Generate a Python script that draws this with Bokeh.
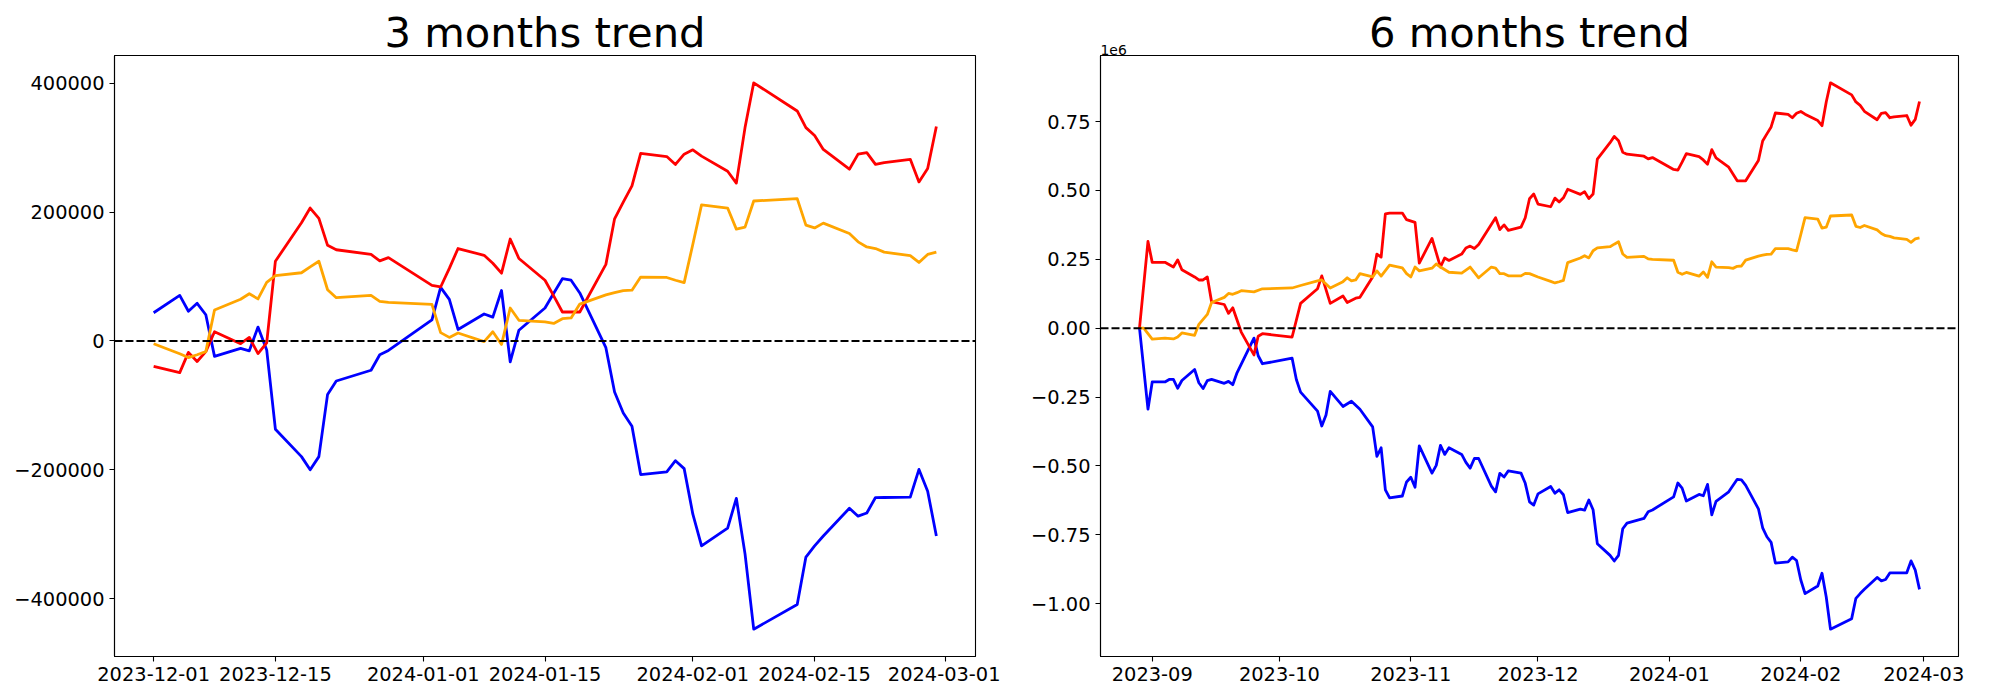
import pandas as pd
from bokeh.plotting import figure
from bokeh.models import FixedTicker, Span, Range1d, Title
from bokeh.layouts import row
from bokeh.embed import file_html
from bokeh.resources import INLINE

# ---------------- 3 months panel data ----------------
dates_3m = [
    "2023-12-01", "2023-12-04", "2023-12-05", "2023-12-06", "2023-12-07", "2023-12-08",
    "2023-12-11", "2023-12-12", "2023-12-13", "2023-12-14", "2023-12-15", "2023-12-18",
    "2023-12-19", "2023-12-20", "2023-12-21", "2023-12-22", "2023-12-26", "2023-12-27",
    "2023-12-28", "2024-01-02", "2024-01-03", "2024-01-04", "2024-01-05", "2024-01-08",
    "2024-01-09", "2024-01-10", "2024-01-11", "2024-01-12", "2024-01-15", "2024-01-16",
    "2024-01-17", "2024-01-18", "2024-01-19", "2024-01-22", "2024-01-23", "2024-01-24",
    "2024-01-25", "2024-01-26", "2024-01-29", "2024-01-30", "2024-01-31", "2024-02-01",
    "2024-02-02", "2024-02-05", "2024-02-06", "2024-02-07", "2024-02-08", "2024-02-13",
    "2024-02-14", "2024-02-15", "2024-02-16", "2024-02-19", "2024-02-20", "2024-02-21",
    "2024-02-22", "2024-02-23", "2024-02-26", "2024-02-27", "2024-02-28", "2024-02-29",
]
blue_3m = [
    43700, 70700, 46100, 58400, 40600, -24000, -11700, -15400, 21500, -14000, -137000, -179600,
    -200000, -179600, -83000, -62200, -45500, -21500, -14800, 32600, 83100, 64600, 17800, 41800,
    36900, 78200, -32600, 16600, 51100, 74000, 96600, 94200, 74500, -10500, -79400, -112000,
    -132300, -207400, -203100, -185900, -198200, -268900, -318200, -290500, -244300, -330500,
    -447400, -409200, -335400, -318200, -302800, -259700, -272000, -267100, -243100, -243000,
    -242500, -199400, -233200, -302800,
]
red_3m = [
    -39400, -49200, -17800, -32000, -16600, 14200, -4300, 5500, -19700, -3100, 123700, 183400,
    206200, 190200, 148300, 141500, 134200, 124300, 129200, 86200, 83700, 112600, 143400, 132900,
    120600, 105200, 158200, 128000, 94200, 70000, 44900, 44900, 44900, 118800, 189500, 215400,
    240600, 291100, 286200, 273900, 289900, 296600, 286800, 263400, 244900, 331100, 400600,
    356900, 331100, 318800, 297200, 266500, 289900, 292300, 273900, 276900, 281900, 246800,
    267700, 332900,
]
orange_3m = [
    -4300, -20000, -25800, -21500, -16600, 48000, 64600, 73200, 65200, 91000, 101500, 105800,
    115000, 123700, 79400, 67100, 70800, 61500, 59700, 56600, 12900, 5500, 12300, -1200,
    14200, -5500, 51100, 32000, 29500, 27100, 34500, 35700, 57200, 71400, 75100, 78200,
    78800, 99100, 98500, 94200, 90500, 150000, 211100, 206200, 173500, 176600, 217200,
    220900, 179700, 175400, 182800, 166800, 153800, 145800, 143400, 137800, 132300, 121800,
    134200, 137800,
]
ticks_3m = ["2023-12-01", "2023-12-15", "2024-01-01", "2024-01-15", "2024-02-01", "2024-02-15", "2024-03-01"]
yticks_3m = [-400000, -200000, 0, 200000, 400000]

# ---------------- 6 months panel data ----------------
red_6m_head_dates = [
    "2023-08-29", "2023-08-31", "2023-09-01", "2023-09-04", "2023-09-06", "2023-09-07",
    "2023-09-08", "2023-09-11", "2023-09-12", "2023-09-13", "2023-09-14", "2023-09-15",
    "2023-09-18", "2023-09-19", "2023-09-20", "2023-09-22", "2023-09-25", "2023-09-26",
    "2023-09-27", "2023-10-04", "2023-10-06", "2023-10-10", "2023-10-11", "2023-10-13",
    "2023-10-16", "2023-10-17", "2023-10-19", "2023-10-20", "2023-10-23", "2023-10-24",
    "2023-10-25", "2023-10-26", "2023-10-27", "2023-10-30", "2023-10-31", "2023-11-02",
    "2023-11-03", "2023-11-06", "2023-11-08", "2023-11-09", "2023-11-10", "2023-11-13",
    "2023-11-14", "2023-11-15", "2023-11-16", "2023-11-17", "2023-11-21", "2023-11-22",
    "2023-11-23", "2023-11-24", "2023-11-27", "2023-11-28", "2023-11-29", "2023-11-30",
]
red_6m_head = [
    0, 315000, 239000, 239000, 222000, 248000, 212000, 186000, 175000, 175000, 186000, 96000,
    86000, 54000, 74000, -14000, -97000, -29000, -20000, -32000, 90000, 143000, 190000, 90000,
    117000, 93000, 109000, 112000, 186000, 269000, 258000, 415000, 418000, 418000, 394000,
    384000, 236000, 326000, 222000, 255000, 246000, 269000, 291000, 298000, 289000, 304000,
    401000, 358000, 375000, 355000, 367000, 401000, 470000, 487000,
]
blue_6m_head_dates = [
    "2023-08-29", "2023-08-31", "2023-09-01", "2023-09-04", "2023-09-05", "2023-09-06",
    "2023-09-07", "2023-09-08", "2023-09-11", "2023-09-12", "2023-09-13", "2023-09-14",
    "2023-09-15", "2023-09-18", "2023-09-19", "2023-09-20", "2023-09-21", "2023-09-25",
    "2023-09-26", "2023-09-27", "2023-10-04", "2023-10-05", "2023-10-06", "2023-10-10",
    "2023-10-11", "2023-10-12", "2023-10-13", "2023-10-16", "2023-10-18", "2023-10-20",
    "2023-10-23", "2023-10-24", "2023-10-25", "2023-10-26", "2023-10-27", "2023-10-30",
    "2023-10-31", "2023-11-01", "2023-11-02", "2023-11-03", "2023-11-06", "2023-11-07",
    "2023-11-08", "2023-11-09", "2023-11-10", "2023-11-13", "2023-11-14", "2023-11-15",
    "2023-11-16", "2023-11-17", "2023-11-20", "2023-11-21", "2023-11-22", "2023-11-23",
    "2023-11-24", "2023-11-27", "2023-11-28", "2023-11-29", "2023-11-30",
]
blue_6m_head = [
    0, -294000, -195000, -195000, -186000, -186000, -218000, -190000, -150000, -198000,
    -219000, -190000, -186000, -200000, -193000, -205000, -162000, -36000, -100000, -129000,
    -109000, -186000, -232000, -301000, -355000, -315000, -229000, -284000, -265000, -294000,
    -358000, -465000, -434000, -587000, -616000, -609000, -558000, -541000, -577000, -427000,
    -526000, -498000, -425000, -458000, -434000, -458000, -487000, -508000, -473000, -473000,
    -573000, -594000, -527000, -540000, -518000, -526000, -563000, -630000, -642000,
]
orange_6m_head_dates = [
    "2023-08-29", "2023-08-30", "2023-09-01", "2023-09-04", "2023-09-06", "2023-09-07",
    "2023-09-08", "2023-09-11", "2023-09-12", "2023-09-13", "2023-09-14", "2023-09-15",
    "2023-09-18", "2023-09-19", "2023-09-20", "2023-09-21", "2023-09-22", "2023-09-25",
    "2023-09-27", "2023-10-04", "2023-10-06", "2023-10-10", "2023-10-11", "2023-10-13",
    "2023-10-16", "2023-10-17", "2023-10-18", "2023-10-19", "2023-10-20", "2023-10-23",
    "2023-10-24", "2023-10-25", "2023-10-27", "2023-10-30", "2023-10-31", "2023-11-01",
    "2023-11-02", "2023-11-03", "2023-11-06", "2023-11-07", "2023-11-08", "2023-11-10",
    "2023-11-13", "2023-11-15", "2023-11-17", "2023-11-20", "2023-11-21", "2023-11-22",
    "2023-11-23", "2023-11-24", "2023-11-27", "2023-11-28", "2023-11-29",
]
orange_6m_head = [
    0, 0, -40000, -36000, -39000, -32000, -17000, -26000, 14000, 32000, 50000, 93000,
    112000, 126000, 123000, 129000, 136000, 132000, 143000, 146000, 155000, 172000, 175000,
    146000, 169000, 183000, 172000, 175000, 198000, 186000, 208000, 189000, 229000, 219000,
    198000, 186000, 222000, 208000, 218000, 233000, 222000, 203000, 200000, 222000, 183000,
    222000, 218000, 198000, 198000, 190000, 190000, 199000, 198000,
]
# Dec-Feb part of the 6 months panel (same trading days as dates_3m)
red_6m_tail = [
    450600, 440800, 472200, 458000, 473400, 504200, 485700, 495500, 470300, 486900, 613700,
    673400, 696200, 680200, 638300, 631500, 624200, 614300, 619200, 576200, 573700, 602600,
    633400, 622900, 610600, 595200, 648200, 618000, 584200, 560000, 534900, 534900, 534900,
    608800, 679500, 705400, 730600, 781100, 776200, 763900, 779900, 786600, 776800, 753400,
    734900, 821100, 890600, 846900, 821100, 808800, 787200, 756500, 779900, 782300, 763900,
    766900, 771900, 736800, 757700, 822900,
]
blue_6m_tail = [
    -601300, -574300, -598900, -586600, -604400, -669000, -656700, -660400, -623500, -659000,
    -782000, -824600, -845000, -824600, -728000, -707200, -690500, -666500, -659800, -612400,
    -561900, -580400, -627200, -603200, -608100, -566800, -677600, -628400, -593900, -571000,
    -548400, -550800, -570500, -655500, -724400, -757000, -777300, -852400, -848100, -830900,
    -843200, -913900, -963200, -935500, -889300, -975500, -1092400, -1054200, -980400, -963200,
    -947800, -904700, -917000, -912100, -888100, -888000, -887500, -844400, -878200, -947800,
]
orange_6m_tail = [
    185700, 170000, 164200, 168500, 173400, 238000, 254600, 263200, 255200, 281000, 291500,
    295800, 305000, 313700, 269400, 257100, 260800, 251500, 249700, 246600, 202900, 195500,
    202300, 188800, 204200, 184500, 241100, 222000, 219500, 217100, 224500, 225700, 247200,
    261400, 265100, 268200, 268800, 289100, 288500, 284200, 280500, 340000, 401100, 396200,
    363500, 366600, 407200, 410900, 369700, 365400, 372800, 356800, 343800, 335800, 333400,
    327800, 322300, 311800, 324200, 327800,
]
ticks_6m = ["2023-09-01", "2023-10-01", "2023-11-01", "2023-12-01", "2024-01-01", "2024-02-01", "2024-03-01"]
tick_labels_6m = ["2023-09", "2023-10", "2023-11", "2023-12", "2024-01", "2024-02", "2024-03"]
yticks_6m = [-1000000, -750000, -500000, -250000, 0, 250000, 500000, 750000]

COLORS = {"blue": "blue", "red": "red", "orange": "orange"}
FONT = "DejaVu Sans"
TITLE_SIZE = "41.7px"


def ms(s):
    return pd.Timestamp(s).value / 1e6


def minus(s):
    return s.replace("-", "\u2212")


def make_fig(title, width, left, right, series, xticks, xlabels, yticks, ylabels):
    xs_all = [ms(d) for dates, _, _ in series for d in dates]
    ys_all = [v for _, vals, _ in series for v in vals]
    x0, x1 = min(xs_all), max(xs_all)
    y0, y1 = min(ys_all), max(ys_all)
    mx, my = 0.05 * (x1 - x0), 0.05 * (y1 - y0)
    p = figure(width=width, height=692, x_axis_type="datetime",
               output_backend="svg", toolbar_location=None,
               x_range=Range1d(x0 - mx, x1 + mx), y_range=Range1d(y0 - my, y1 + my),
               min_border_left=left, min_border_right=right,
               min_border_top=55, min_border_bottom=36, title=title)
    p.title.text_font = FONT
    p.title.text_font_size = TITLE_SIZE
    p.title.text_font_style = "normal"
    p.title.text_color = "black"
    p.title.align = "center"
    p.title.standoff = -3
    p.xgrid.visible = False
    p.ygrid.visible = False
    p.outline_line_color = "black"
    p.outline_line_width = 1.1
    p.background_fill_color = "white"
    p.border_fill_color = "white"
    for ax in p.axis:
        ax.major_label_text_font = FONT
        ax.major_label_text_font_size = "19.4px"
        ax.major_label_text_color = "black"
        ax.axis_line_color = "black"
        ax.axis_line_width = 1.1
        ax.major_tick_line_color = "black"
        ax.major_tick_line_width = 1.1
        ax.major_tick_out = 5
        ax.major_tick_in = 0
        ax.minor_tick_line_color = None
        ax.major_label_standoff = 5
    xt = [ms(t) for t in xticks]
    p.xaxis.ticker = FixedTicker(ticks=xt)
    p.xaxis.major_label_overrides = {t: lab for t, lab in zip(xt, xlabels)}
    p.yaxis.ticker = FixedTicker(ticks=yticks)
    p.yaxis.major_label_overrides = {t: lab for t, lab in zip(yticks, ylabels)}
    for dates, vals, color in series:
        p.line([pd.Timestamp(d) for d in dates], vals, line_color=COLORS[color],
               line_width=2.8, line_join="round")
    p.add_layout(Span(location=0, dimension="width", line_color="black",
                      line_width=2, line_dash="8 3"))
    return p


series_3m = [(dates_3m, blue_3m, "blue"), (dates_3m, red_3m, "red"), (dates_3m, orange_3m, "orange")]
p1 = make_fig("3 months trend", 1000, 114, 25, series_3m, ticks_3m, ticks_3m,
              yticks_3m, [minus(str(v)) for v in yticks_3m])

series_6m = [
    (blue_6m_head_dates + dates_3m, blue_6m_head + blue_6m_tail, "blue"),
    (red_6m_head_dates + dates_3m, red_6m_head + red_6m_tail, "red"),
    (orange_6m_head_dates + dates_3m, orange_6m_head + orange_6m_tail, "orange"),
]
p2 = make_fig("", 978, 100, 20, series_6m, ticks_6m, tick_labels_6m,
              yticks_6m, [minus("%.2f" % (v / 1e6)) for v in yticks_6m])
# offset text just above the frame (nearest panel), main title stacked above it
offset_title = Title(text="1e6", align="left", text_font=FONT, text_font_size="13.9px",
                     text_font_style="normal", text_color="black", standoff=2)
p2.add_layout(offset_title, "above")
main_title = Title(text="6 months trend", align="center", text_font=FONT,
                   text_font_size=TITLE_SIZE, text_font_style="normal", text_color="black",
                   standoff=-30)
p2.add_layout(main_title, "above")

layout = row(p1, p2)
open("out.html", "w").write(file_html(layout, INLINE))
